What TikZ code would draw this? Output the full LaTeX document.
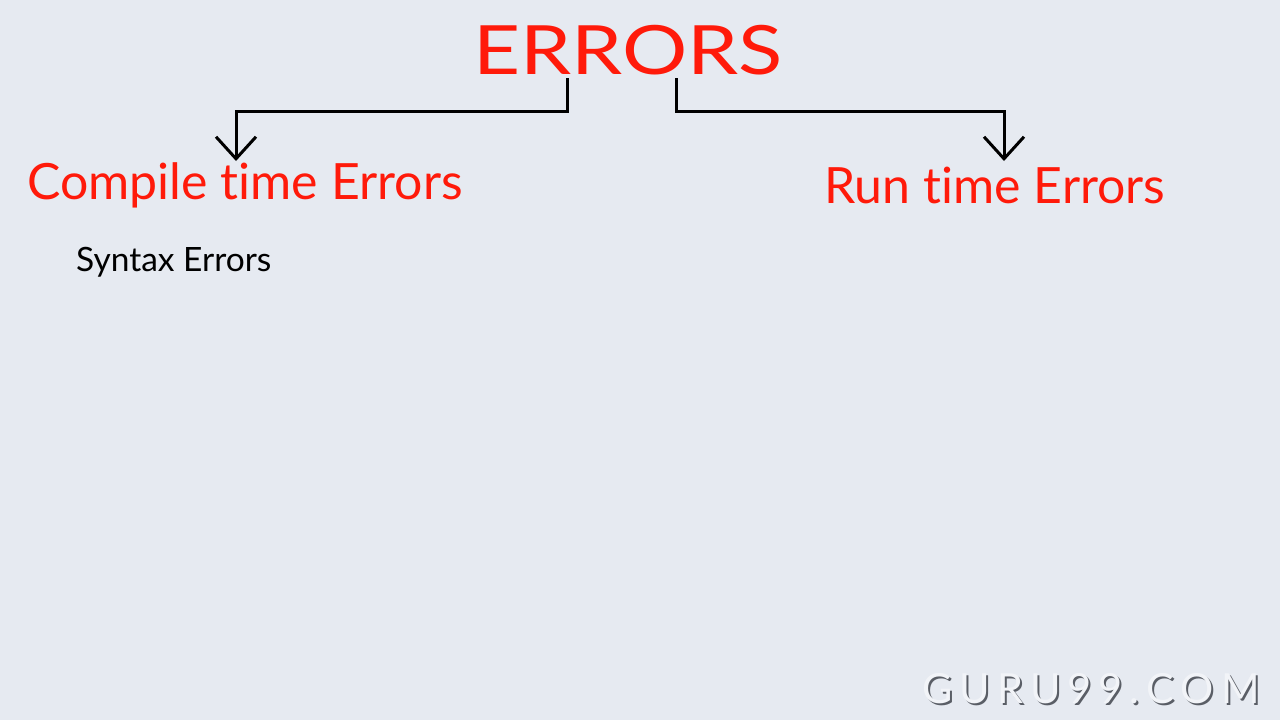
\documentclass[tikz,border=0pt]{standalone}
\usepackage{fontspec}
\setmainfont{Lato}[Ligatures=NoCommon]
\usetikzlibrary{arrows.meta}
\definecolor{bg}{HTML}{E6EAF1}
\definecolor{errred}{HTML}{FF1A0A}
\definecolor{wm}{HTML}{F2F4F8}
\definecolor{wmdark}{HTML}{5A5E66}
\tikzset{
  head/.style={text=errred, inner sep=0pt, anchor=center},
  sub/.style={text=black, inner sep=0pt, anchor=center},
  link/.style={line width=3pt, line join=miter, -{Straight Barb[length=22pt,width=40pt,line width=3pt]}},
  wmark/.style={font=\fontsize{41.5}{41.5}\selectfont, inner sep=0pt},
}
\begin{document}
\begin{tikzpicture}[x=1pt,y=-1pt]
\fill[bg] (0,0) rectangle (1280,720);
\useasboundingbox (0,0) rectangle (1280,720);
\node[head, font=\fontsize{68}{68}\selectfont, xscale=1.2] (err) at (628,50) {ERRORS};
\node[head, font=\fontsize{50}{50}\selectfont] (cte) at (245,185) {Compile time Errors};
\node[head, font=\fontsize{50}{50}\selectfont] (rte) at (995,185) {Run time Errors};
\node[sub, font=\fontsize{33.5}{33.5}\selectfont, anchor=west] (syn) at (76,262) {Syntax Errors};
\coordinate (l0) at (567,78);
\coordinate (r0) at (676,78);
\draw[link] (l0) |- (236,111) -- (236,161);
\draw[link] (r0) |- (1004,111) -- (1004,161);
\node[text=wmdark, wmark] (wm1) at (1093,691) {G\,U\,R\,U\,9\,9\,.\,C\,O\,M};
\node[text=wm, wmark] (wm) at (1091,689) {G\,U\,R\,U\,9\,9\,.\,C\,O\,M};
\end{tikzpicture}
\end{document}
